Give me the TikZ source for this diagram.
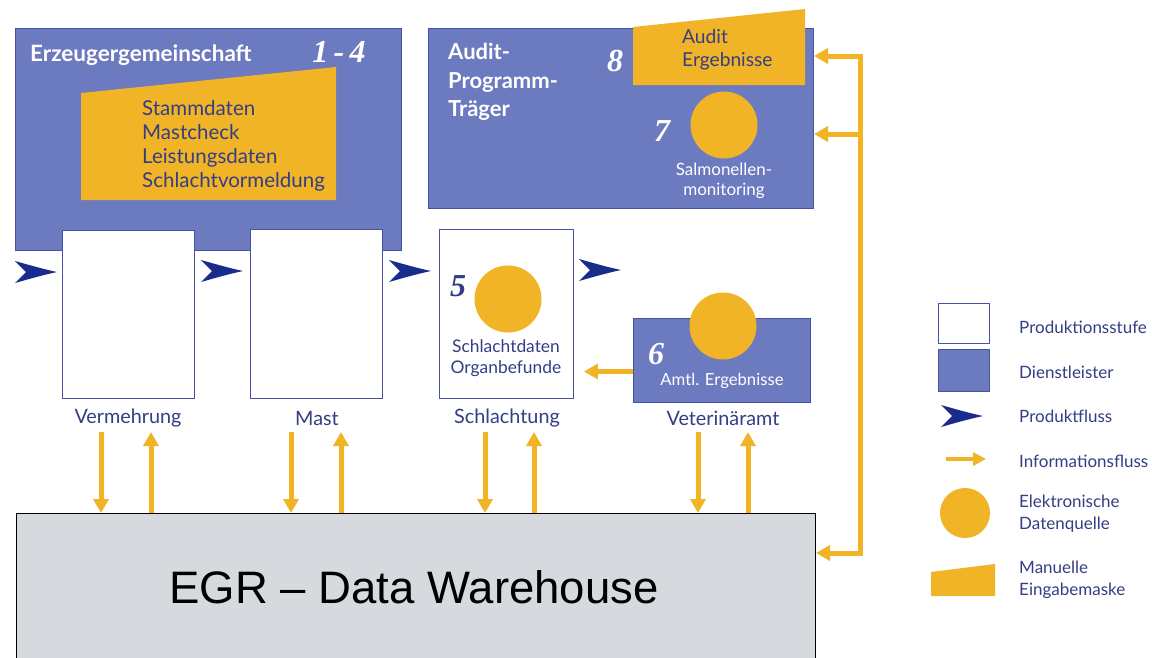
\documentclass[tikz,border=0pt]{standalone}
\usepackage{fontspec}
\setmainfont{Lato}
\newfontfamily\numfont{Liberation Serif}
\newfontfamily\arialfont{Liberation Sans}
\usetikzlibrary{arrows.meta,calc}

\definecolor{dienst}{RGB}{108,122,192}
\definecolor{dienstrand}{RGB}{70,82,165}
\definecolor{gelb}{RGB}{241,180,38}
\definecolor{textblau}{RGB}{52,62,132}
\definecolor{pfeilblau}{RGB}{24,44,140}
\definecolor{lager}{RGB}{214,217,221}

\tikzset{
  infotip/.tip={Triangle[width=15pt,length=14pt]},
  service/.style={draw=dienstrand, fill=dienst, line width=1pt, inner sep=0pt, anchor=north west},
  stagebox/.style={draw=dienstrand, fill=white, line width=0.9pt, inner sep=0pt, anchor=north west},
  quelle/.style={circle, fill=gelb, inner sep=0pt},
  info/.style={draw=gelb, line width=5pt, -infotip},
  titel/.style={text=white, font=\fontsize{22.5}{26}\selectfont\bfseries, align=left, anchor=west, inner sep=0pt},
  nummer/.style={font=\numfont\fontsize{32}{32}\selectfont\bfseries\itshape, inner sep=0pt},
  dunkeltext/.style={text=textblau, inner sep=0pt},
  stufenname/.style={text=textblau, font=\fontsize{19.8}{22}\selectfont, inner sep=0pt},
  legtext/.style={text=textblau, font=\fontsize{17}{22}\selectfont, align=left, anchor=west, inner sep=0pt},
  prodpfeil/.pic={\fill[pfeilblau] (0,-11) .. controls (14,-7) and (28,-3) .. (42,0)
                    .. controls (28,3) and (14,7) .. (0,11) -- (11,0) -- cycle;}
}

\begin{document}
\begin{tikzpicture}[x=1pt, y=-1pt]
\clip (0,0) rectangle (1152,657);
\fill[white] (0,0) rectangle (1152,657);

% Erzeugergemeinschaft (service provider 1-4)
\node[service, minimum width=386pt, minimum height=222pt] (erz) at (15,28) {};
\node[titel] (erztitel) at (30,55) {Erzeugergemeinschaft};
\node[nummer, text=white] (n14) at (339,52) {1\,-\,4};
\fill[gelb] (81,93) -- (336,67) -- (336,200) -- (81,200) -- cycle;
\node[dunkeltext, font=\fontsize{20.5}{24}\selectfont, align=left, anchor=north west] (erzdaten) at (142,100)
  {Stammdaten\\Mastcheck\\Leistungsdaten\\Schlachtvormeldung};

% Audit programme carrier (7, 8)
\node[service, minimum width=385pt, minimum height=180pt] (audit) at (428,28) {};
\node[titel, anchor=north west, font=\fontsize{22}{28.5}\selectfont\bfseries] (audittitel) at (448,43) {Audit-\\Programm-\\Träger};
\fill[gelb] (633,27) -- (805,9) -- (805,85) -- (633,85) -- cycle;
\node[dunkeltext, font=\fontsize{19.2}{23.5}\selectfont, align=left, anchor=north west] (auditerg) at (682,29) {Audit\\Ergebnisse};
\node[nummer, text=white] (n8) at (615,61) {8};
\node[quelle, minimum size=67pt] (q7) at (724,125) {};
\node[nummer, text=white] (n7) at (662,131) {7};
\node[text=white, font=\fontsize{17}{20}\selectfont, align=center, inner sep=0pt] (salm) at (724,181) {Salmonellen-\\monitoring};

% Production stages
\node[stagebox, minimum width=132pt, minimum height=168pt] (verm) at (62,230) {};
\node[stagebox, minimum width=132pt, minimum height=169pt] (mast) at (250,229) {};
\node[stagebox, minimum width=134pt, minimum height=169pt] (schl) at (439,229) {};
\node[quelle, minimum size=67pt] (q5) at (508,299) {};
\node[nummer, text=textblau] (n5) at (458,286) {5};
\node[dunkeltext, font=\fontsize{17.4}{21}\selectfont, align=center] (schldaten) at (506,358) {Schlachtdaten\\Organbefunde};

% Veterinary office (6)
\node[service, minimum width=177pt, minimum height=84pt] (vet) at (633,318) {};
\node[quelle, minimum size=67pt] (q6) at (723,326) {};
\node[nummer, text=white] (n6) at (656,354) {6};
\node[text=white, font=\fontsize{16.7}{20}\selectfont, inner sep=0pt] (amtl) at (722,381) {Amtl. Ergebnisse};

% Stage names
\node[stufenname] (vlab) at (128,418) {Vermehrung};
\node[stufenname] (mlab) at (317,418) {Mast};
\node[stufenname] (slab) at (507,418) {Schlachtung};
\node[stufenname] (vetlab) at (723,418) {Veterinäramt};

% Product flow
\pic at (15,272) {prodpfeil};
\pic at (201,271) {prodpfeil};
\pic at (389,271) {prodpfeil};
\pic at (579,270) {prodpfeil};

% Data warehouse
\node[draw=black, fill=lager, line width=1pt, anchor=north west, inner sep=0pt,
      minimum width=799pt, minimum height=170pt] (egr) at (16,513) {};
\node[font=\arialfont\fontsize{45.5}{50}\selectfont, text=black, inner sep=0pt] (egrtext) at (414,587) {EGR – Data Warehouse};

% Information flow between stages and warehouse
\coordinate (vd) at (101,432); \coordinate (vu) at (151,432);
\coordinate (md) at (291,432); \coordinate (mu) at (341,432);
\coordinate (sd) at (485,432); \coordinate (su) at (534,432);
\coordinate (ed) at (698,432); \coordinate (eu) at (748,432);
\foreach \c in {vd,md,sd,ed} \draw[info] (\c) -- (\c |- egr.north);
\foreach \c in {vu,mu,su,eu} \draw[info] (\c |- egr.north) -- (\c);

\draw[info, shorten >=10pt] ([yshift=-11pt]vet.west) -- ([yshift=-11pt]vet.west -| schl.east);

% Feedback bus to the audit carrier
\coordinate (bt) at (860,56);
\coordinate (bm) at (860,134);
\coordinate (bb) at (860,553);
\draw[draw=gelb, line width=5pt, infotip-infotip] (bt -| audit.east) -- (bt) -- (bb) -- (bb -| egr.east);
\draw[info] (bm) -- (bm -| audit.east);

% Legend
\node[stagebox, minimum width=51pt, minimum height=40pt] (lstufe) at (938,303) {};
\node[legtext] (lstufet) at (1019,327) {Produktionsstufe};
\node[service, minimum width=51pt, minimum height=42pt] (ldienst) at (938,349) {};
\node[legtext] (ldienstt) at (1019,372) {Dienstleister};
\pic at (941,416) {prodpfeil};
\node[legtext] (lprodt) at (1019,416) {Produktfluss};
\coordinate (li) at (946,459);
\draw[draw=gelb, line width=4pt, -{Triangle[width=13pt,length=13pt]}] (li) -- ++(40,0);
\node[legtext] (linfot) at (1019,461) {Informationsfluss};
\node[quelle, minimum size=50pt] (lquelle) at (965,513) {};
\node[legtext] (lquellet) at (1019,514) {Elektronische\\Datenquelle};
\fill[gelb] (931,572) -- (995,564) -- (995,596) -- (931,596) -- cycle;
\node[legtext] (lmaske) at (1019,580) {Manuelle\\Eingabemaske};
\end{tikzpicture}
\end{document}
